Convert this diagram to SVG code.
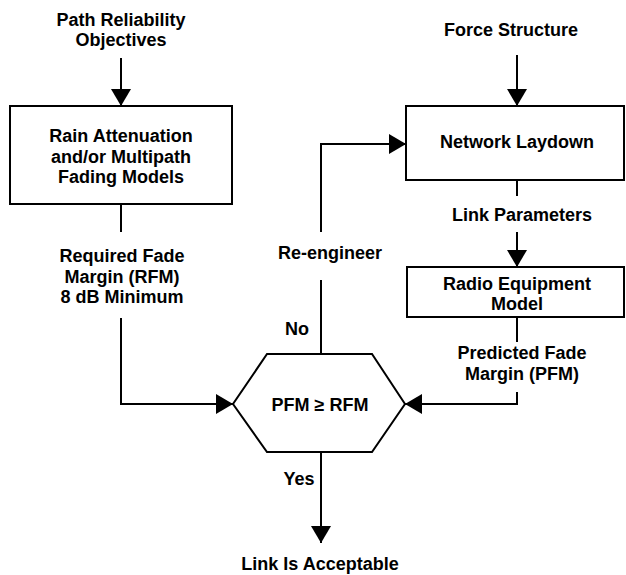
<svg xmlns="http://www.w3.org/2000/svg" width="626" height="575" viewBox="0 0 626 575">
<defs>
<style>
.t{font-family:"Liberation Sans",Arial,sans-serif;font-weight:bold;font-size:18px;fill:#000;text-anchor:middle}
.b{fill:#fff;stroke:#000;stroke-width:2}
.c{fill:none;stroke:#000;stroke-width:2}
</style>
<marker id="ah" markerUnits="userSpaceOnUse" markerWidth="17" markerHeight="20" refX="17" refY="10" orient="auto" viewBox="0 0 17 20">
<path d="M0,0 L17,10 L0,20 z" fill="#000"/>
</marker>
</defs>
<rect width="626" height="575" fill="#fff"/>
<g id="connectors">
<line class="c" x1="121" y1="58" x2="121" y2="106" marker-end="url(#ah)"/>
<line class="c" x1="517" y1="55" x2="517" y2="106" marker-end="url(#ah)"/>
<line class="c" x1="121" y1="205" x2="121" y2="232"/>
<polyline class="c" points="121,318 121,404 233,404" marker-end="url(#ah)"/>
<line class="c" x1="517" y1="180" x2="517" y2="196"/>
<line class="c" x1="517" y1="232" x2="517" y2="267" marker-end="url(#ah)"/>
<line class="c" x1="517" y1="317" x2="517" y2="342"/>
<polyline class="c" points="517,392 517,404 405,404" marker-end="url(#ah)"/>
<line class="c" x1="321" y1="354" x2="321" y2="280"/>
<polyline class="c" points="321,232 321,144 406,144" marker-end="url(#ah)"/>
<line class="c" x1="321" y1="452" x2="321" y2="543" marker-end="url(#ah)"/>
</g>
<g id="path-reliability">
<text class="t" x="121" y="26">Path Reliability</text>
<text class="t" x="121" y="46">Objectives</text>
</g>
<g id="force-structure">
<text class="t" x="511" y="36">Force Structure</text>
</g>
<g id="rain-attenuation">
<rect class="b" x="10" y="106" width="222" height="98"/>
<text class="t" x="121" y="142">Rain Attenuation</text>
<text class="t" x="121" y="163">and/or Multipath</text>
<text class="t" x="121" y="183">Fading Models</text>
</g>
<g id="network-laydown">
<rect class="b" x="406" y="106" width="218" height="74"/>
<text class="t" x="517" y="148">Network Laydown</text>
</g>
<g id="radio-equipment">
<rect class="b" x="407" y="267" width="217" height="50"/>
<text class="t" x="517" y="290">Radio Equipment</text>
<text class="t" x="517" y="310">Model</text>
</g>
<g id="decision">
<polygon class="b" points="267,354 372,354 405,404 372,452 267,452 233,404"/>
<text class="t" x="320" y="411">PFM ≥ RFM</text>
</g>
<g id="labels">
<text class="t" x="122" y="262">Required Fade</text>
<text class="t" x="122" y="283">Margin (RFM)</text>
<text class="t" x="122" y="303">8 dB Minimum</text>
<text class="t" x="522" y="221">Link Parameters</text>
<text class="t" x="522" y="359">Predicted Fade</text>
<text class="t" x="522" y="380">Margin (PFM)</text>
<text class="t" x="330" y="259">Re-engineer</text>
<text class="t" x="297" y="335">No</text>
<text class="t" x="299" y="485">Yes</text>
<text class="t" x="320" y="570">Link Is Acceptable</text>
</g>
</svg>
